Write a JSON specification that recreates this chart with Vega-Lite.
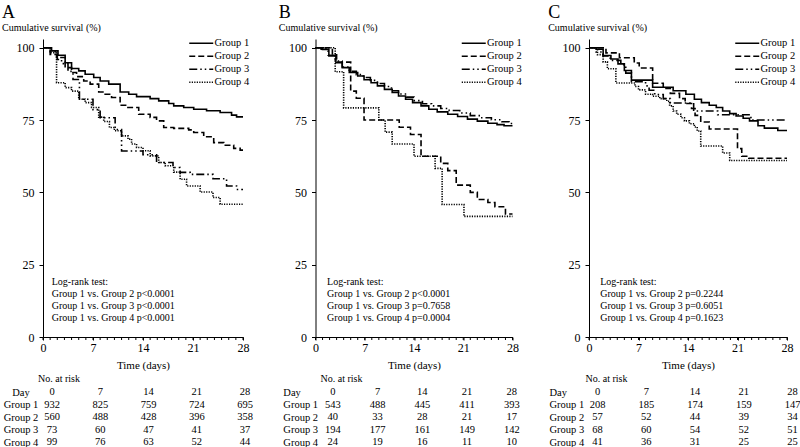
{
  "$schema": "https://vega.github.io/schema/vega-lite/v6.json",
  "padding": {"left": 2, "top": 4, "right": 0, "bottom": 0},
  "background": "white",
  "config": {
    "font": "Liberation Serif",
    "view": {"stroke": null},
    "axis": {"labelFont": "Liberation Serif", "labelFontSize": 12, "labelColor": "black", "tickColor": "black", "domainColor": "black", "titleFont": "Liberation Serif", "titleFontSize": 11, "titleFontWeight": "normal", "titleColor": "black", "grid": false},
    "title": {"font": "Liberation Serif", "color": "black", "fontWeight": "normal", "subtitleFont": "Liberation Serif", "subtitleColor": "black"},
    "legend": {"orient": "none", "direction": "vertical", "legendX": 153, "legendY": -1, "title": null, "symbolType": "M-3,0H3", "symbolSize": 64, "symbolStrokeWidth": 1.5, "symbolStrokeColor": "black", "symbolFillColor": "transparent", "labelFont": "Liberation Serif", "labelFontSize": 10.5, "labelColor": "black", "rowPadding": 2, "labelOffset": 8, "padding": 0},
    "text": {"font": "Liberation Serif", "color": "black"}
  },
  "datasets": {
    "days": [{"d":0},{"d":1},{"d":2},{"d":3},{"d":4},{"d":5},{"d":6},{"d":7},{"d":8},{"d":9},{"d":10},{"d":11},{"d":12},{"d":13},{"d":14},{"d":15},{"d":16},{"d":17},{"d":18},{"d":19},{"d":20},{"d":21},{"d":22},{"d":23},{"d":24},{"d":25},{"d":26},{"d":27},{"d":28}],
    "km": [
      {"p":"A","g":"Group 1","t":0,"s":100},{"p":"A","g":"Group 1","t":1.2,"s":98.9},{"p":"A","g":"Group 1","t":2.1,"s":97.4},{"p":"A","g":"Group 1","t":3.1,"s":94.8},{"p":"A","g":"Group 1","t":4,"s":92.8},{"p":"A","g":"Group 1","t":5,"s":92},{"p":"A","g":"Group 1","t":5.9,"s":90.8},{"p":"A","g":"Group 1","t":7.1,"s":89.7},{"p":"A","g":"Group 1","t":8,"s":88.5},{"p":"A","g":"Group 1","t":9.2,"s":87.4},{"p":"A","g":"Group 1","t":10.8,"s":84.7},{"p":"A","g":"Group 1","t":12,"s":83.9},{"p":"A","g":"Group 1","t":13.1,"s":83.1},{"p":"A","g":"Group 1","t":15,"s":82.4},{"p":"A","g":"Group 1","t":16.2,"s":81.6},{"p":"A","g":"Group 1","t":17.6,"s":80.7},{"p":"A","g":"Group 1","t":18.3,"s":79.9},{"p":"A","g":"Group 1","t":19.7,"s":79.3},{"p":"A","g":"Group 1","t":21.1,"s":78.7},{"p":"A","g":"Group 1","t":22.9,"s":78.2},{"p":"A","g":"Group 1","t":24.8,"s":77.6},{"p":"A","g":"Group 1","t":26.4,"s":76.7},{"p":"A","g":"Group 1","t":27.1,"s":76.1},{"p":"A","g":"Group 1","t":28,"s":76.1},
      {"p":"A","g":"Group 2","t":0,"s":100},{"p":"A","g":"Group 2","t":1,"s":97.7},{"p":"A","g":"Group 2","t":1.9,"s":96.6},{"p":"A","g":"Group 2","t":3.1,"s":93.1},{"p":"A","g":"Group 2","t":4,"s":91.4},{"p":"A","g":"Group 2","t":4.7,"s":90},{"p":"A","g":"Group 2","t":5.7,"s":88.5},{"p":"A","g":"Group 2","t":6.6,"s":87.4},{"p":"A","g":"Group 2","t":7.8,"s":84.7},{"p":"A","g":"Group 2","t":8.7,"s":83.9},{"p":"A","g":"Group 2","t":9.6,"s":82.8},{"p":"A","g":"Group 2","t":10.8,"s":80.1},{"p":"A","g":"Group 2","t":11.7,"s":79.3},{"p":"A","g":"Group 2","t":13.4,"s":77},{"p":"A","g":"Group 2","t":15,"s":75.9},{"p":"A","g":"Group 2","t":15.9,"s":74.7},{"p":"A","g":"Group 2","t":16.9,"s":72.4},{"p":"A","g":"Group 2","t":18.3,"s":72.1},{"p":"A","g":"Group 2","t":20.4,"s":71.6},{"p":"A","g":"Group 2","t":21.1,"s":70.7},{"p":"A","g":"Group 2","t":22.5,"s":69.2},{"p":"A","g":"Group 2","t":23.9,"s":67.2},{"p":"A","g":"Group 2","t":25.3,"s":66.3},{"p":"A","g":"Group 2","t":26.7,"s":65.2},{"p":"A","g":"Group 2","t":27.6,"s":64.6},{"p":"A","g":"Group 2","t":28,"s":64.6},
      {"p":"A","g":"Group 3","t":0,"s":100},{"p":"A","g":"Group 3","t":1,"s":98.6},{"p":"A","g":"Group 3","t":2,"s":95.9},{"p":"A","g":"Group 3","t":2.6,"s":94.5},{"p":"A","g":"Group 3","t":3.5,"s":91.8},{"p":"A","g":"Group 3","t":4.2,"s":89},{"p":"A","g":"Group 3","t":5.1,"s":82.2},{"p":"A","g":"Group 3","t":7,"s":78.6},{"p":"A","g":"Group 3","t":8,"s":75.8},{"p":"A","g":"Group 3","t":10.1,"s":71.7},{"p":"A","g":"Group 3","t":11,"s":64.3},{"p":"A","g":"Group 3","t":14,"s":63},{"p":"A","g":"Group 3","t":15.9,"s":60.3},{"p":"A","g":"Group 3","t":18.2,"s":58.6},{"p":"A","g":"Group 3","t":19.2,"s":56.9},{"p":"A","g":"Group 3","t":20.6,"s":56.2},{"p":"A","g":"Group 3","t":23.8,"s":54.7},{"p":"A","g":"Group 3","t":25.7,"s":52.2},{"p":"A","g":"Group 3","t":27.1,"s":51},{"p":"A","g":"Group 3","t":28,"s":51},
      {"p":"A","g":"Group 4","t":0,"s":100},{"p":"A","g":"Group 4","t":1,"s":98.3},{"p":"A","g":"Group 4","t":1.9,"s":87.9},{"p":"A","g":"Group 4","t":3.1,"s":86.2},{"p":"A","g":"Group 4","t":4,"s":85},{"p":"A","g":"Group 4","t":5,"s":82.2},{"p":"A","g":"Group 4","t":5.9,"s":81},{"p":"A","g":"Group 4","t":6.8,"s":79.3},{"p":"A","g":"Group 4","t":7.8,"s":76},{"p":"A","g":"Group 4","t":8.5,"s":74.5},{"p":"A","g":"Group 4","t":9.3,"s":72.4},{"p":"A","g":"Group 4","t":10,"s":71.3},{"p":"A","g":"Group 4","t":11,"s":69.5},{"p":"A","g":"Group 4","t":11.9,"s":68.4},{"p":"A","g":"Group 4","t":12.4,"s":66.7},{"p":"A","g":"Group 4","t":13.1,"s":65.5},{"p":"A","g":"Group 4","t":14,"s":64.4},{"p":"A","g":"Group 4","t":15,"s":62.6},{"p":"A","g":"Group 4","t":16.2,"s":60.3},{"p":"A","g":"Group 4","t":17.1,"s":59.2},{"p":"A","g":"Group 4","t":18.3,"s":57},{"p":"A","g":"Group 4","t":19.2,"s":54.5},{"p":"A","g":"Group 4","t":20.1,"s":52.2},{"p":"A","g":"Group 4","t":22,"s":50.1},{"p":"A","g":"Group 4","t":23.8,"s":48.2},{"p":"A","g":"Group 4","t":24.8,"s":45.9},{"p":"A","g":"Group 4","t":28,"s":45.9},
      {"p":"B","g":"Group 1","t":0,"s":100},{"p":"B","g":"Group 1","t":1,"s":99.4},{"p":"B","g":"Group 1","t":1.9,"s":97.1},{"p":"B","g":"Group 1","t":2.9,"s":94.8},{"p":"B","g":"Group 1","t":3.8,"s":93.1},{"p":"B","g":"Group 1","t":4.8,"s":91.4},{"p":"B","g":"Group 1","t":6,"s":90.2},{"p":"B","g":"Group 1","t":6.9,"s":88.9},{"p":"B","g":"Group 1","t":7.9,"s":87.9},{"p":"B","g":"Group 1","t":8.8,"s":86.8},{"p":"B","g":"Group 1","t":9.8,"s":85.6},{"p":"B","g":"Group 1","t":10.9,"s":84.5},{"p":"B","g":"Group 1","t":11.8,"s":83.3},{"p":"B","g":"Group 1","t":12.8,"s":82.2},{"p":"B","g":"Group 1","t":13.8,"s":81},{"p":"B","g":"Group 1","t":15,"s":79.9},{"p":"B","g":"Group 1","t":16.1,"s":78.7},{"p":"B","g":"Group 1","t":17.3,"s":77.8},{"p":"B","g":"Group 1","t":18.8,"s":77},{"p":"B","g":"Group 1","t":20.2,"s":76.2},{"p":"B","g":"Group 1","t":21.6,"s":75.3},{"p":"B","g":"Group 1","t":23,"s":74.6},{"p":"B","g":"Group 1","t":24.5,"s":73.9},{"p":"B","g":"Group 1","t":25.8,"s":73.4},{"p":"B","g":"Group 1","t":26.8,"s":73},{"p":"B","g":"Group 1","t":28,"s":73},
      {"p":"B","g":"Group 2","t":0,"s":100},{"p":"B","g":"Group 2","t":2.4,"s":97.5},{"p":"B","g":"Group 2","t":3,"s":95},{"p":"B","g":"Group 2","t":5,"s":85},{"p":"B","g":"Group 2","t":5.8,"s":82.5},{"p":"B","g":"Group 2","t":6.9,"s":75},{"p":"B","g":"Group 2","t":11.9,"s":72.5},{"p":"B","g":"Group 2","t":13.5,"s":70},{"p":"B","g":"Group 2","t":15,"s":62.5},{"p":"B","g":"Group 2","t":17.8,"s":60},{"p":"B","g":"Group 2","t":18.8,"s":57.5},{"p":"B","g":"Group 2","t":20,"s":52.5},{"p":"B","g":"Group 2","t":22,"s":50},{"p":"B","g":"Group 2","t":23,"s":47.5},{"p":"B","g":"Group 2","t":24.5,"s":46.5},{"p":"B","g":"Group 2","t":25.5,"s":45},{"p":"B","g":"Group 2","t":27,"s":42.5},{"p":"B","g":"Group 2","t":28,"s":42.5},
      {"p":"B","g":"Group 3","t":0,"s":100},{"p":"B","g":"Group 3","t":0.8,"s":99.5},{"p":"B","g":"Group 3","t":1.8,"s":97.4},{"p":"B","g":"Group 3","t":2.8,"s":95.4},{"p":"B","g":"Group 3","t":3.8,"s":93.3},{"p":"B","g":"Group 3","t":4.8,"s":91.8},{"p":"B","g":"Group 3","t":5.8,"s":90.7},{"p":"B","g":"Group 3","t":6.8,"s":89.7},{"p":"B","g":"Group 3","t":7.8,"s":88.7},{"p":"B","g":"Group 3","t":8.8,"s":87.6},{"p":"B","g":"Group 3","t":9.8,"s":86.6},{"p":"B","g":"Group 3","t":10.8,"s":85.1},{"p":"B","g":"Group 3","t":11.8,"s":84},{"p":"B","g":"Group 3","t":12.9,"s":82.9},{"p":"B","g":"Group 3","t":14,"s":81.7},{"p":"B","g":"Group 3","t":15.2,"s":80.6},{"p":"B","g":"Group 3","t":16.5,"s":79.9},{"p":"B","g":"Group 3","t":17.8,"s":79},{"p":"B","g":"Group 3","t":19,"s":78.3},{"p":"B","g":"Group 3","t":20.5,"s":77.4},{"p":"B","g":"Group 3","t":22,"s":76.5},{"p":"B","g":"Group 3","t":23.5,"s":75.8},{"p":"B","g":"Group 3","t":25,"s":75.1},{"p":"B","g":"Group 3","t":26.5,"s":74.4},{"p":"B","g":"Group 3","t":27.5,"s":73.8},{"p":"B","g":"Group 3","t":28,"s":73.8},
      {"p":"B","g":"Group 4","t":0,"s":100},{"p":"B","g":"Group 4","t":2.8,"s":91.7},{"p":"B","g":"Group 4","t":4,"s":79.2},{"p":"B","g":"Group 4","t":9,"s":75},{"p":"B","g":"Group 4","t":9.9,"s":70.8},{"p":"B","g":"Group 4","t":10.9,"s":66.7},{"p":"B","g":"Group 4","t":14,"s":62.5},{"p":"B","g":"Group 4","t":17,"s":58.3},{"p":"B","g":"Group 4","t":18,"s":45.8},{"p":"B","g":"Group 4","t":21.1,"s":41.7},{"p":"B","g":"Group 4","t":28,"s":41.7},
      {"p":"C","g":"Group 1","t":0,"s":100},{"p":"C","g":"Group 1","t":1,"s":99.5},{"p":"C","g":"Group 1","t":2,"s":97.3},{"p":"C","g":"Group 1","t":3.1,"s":96.1},{"p":"C","g":"Group 1","t":4.1,"s":94.4},{"p":"C","g":"Group 1","t":5,"s":92.1},{"p":"C","g":"Group 1","t":6,"s":88.8},{"p":"C","g":"Group 1","t":9,"s":86.3},{"p":"C","g":"Group 1","t":11.9,"s":85.1},{"p":"C","g":"Group 1","t":13.7,"s":83.9},{"p":"C","g":"Group 1","t":14.9,"s":82.2},{"p":"C","g":"Group 1","t":15.9,"s":81},{"p":"C","g":"Group 1","t":17,"s":80.1},{"p":"C","g":"Group 1","t":18,"s":79.3},{"p":"C","g":"Group 1","t":18.9,"s":78.1},{"p":"C","g":"Group 1","t":19.9,"s":77.2},{"p":"C","g":"Group 1","t":20.8,"s":76.4},{"p":"C","g":"Group 1","t":21.8,"s":75.6},{"p":"C","g":"Group 1","t":22.7,"s":74.7},{"p":"C","g":"Group 1","t":23.9,"s":73},{"p":"C","g":"Group 1","t":24.8,"s":72.2},{"p":"C","g":"Group 1","t":26.7,"s":71.4},{"p":"C","g":"Group 1","t":28,"s":71.4},
      {"p":"C","g":"Group 2","t":0,"s":100},{"p":"C","g":"Group 2","t":2.4,"s":98.2},{"p":"C","g":"Group 2","t":4.3,"s":96.5},{"p":"C","g":"Group 2","t":6.4,"s":94.7},{"p":"C","g":"Group 2","t":7.1,"s":93},{"p":"C","g":"Group 2","t":9,"s":87.7},{"p":"C","g":"Group 2","t":10.5,"s":85.9},{"p":"C","g":"Group 2","t":11.5,"s":84.2},{"p":"C","g":"Group 2","t":12.8,"s":82.4},{"p":"C","g":"Group 2","t":13.6,"s":80.7},{"p":"C","g":"Group 2","t":14.5,"s":79},{"p":"C","g":"Group 2","t":15,"s":76.6},{"p":"C","g":"Group 2","t":15.8,"s":74.3},{"p":"C","g":"Group 2","t":17,"s":71.9},{"p":"C","g":"Group 2","t":21,"s":65.1},{"p":"C","g":"Group 2","t":21.6,"s":62.5},{"p":"C","g":"Group 2","t":22.6,"s":61.8},{"p":"C","g":"Group 2","t":28,"s":61.8},
      {"p":"C","g":"Group 3","t":0,"s":100},{"p":"C","g":"Group 3","t":1,"s":98.5},{"p":"C","g":"Group 3","t":2,"s":97.1},{"p":"C","g":"Group 3","t":3,"s":95.6},{"p":"C","g":"Group 3","t":4.5,"s":94.1},{"p":"C","g":"Group 3","t":5.2,"s":91.2},{"p":"C","g":"Group 3","t":6,"s":88.2},{"p":"C","g":"Group 3","t":8,"s":86.8},{"p":"C","g":"Group 3","t":8.5,"s":85.3},{"p":"C","g":"Group 3","t":9.3,"s":83.8},{"p":"C","g":"Group 3","t":10.5,"s":82.4},{"p":"C","g":"Group 3","t":11.5,"s":80.9},{"p":"C","g":"Group 3","t":14.8,"s":78.1},{"p":"C","g":"Group 3","t":18.2,"s":76.8},{"p":"C","g":"Group 3","t":22.9,"s":75},{"p":"C","g":"Group 3","t":28,"s":75},
      {"p":"C","g":"Group 4","t":0,"s":100},{"p":"C","g":"Group 4","t":1.2,"s":97.6},{"p":"C","g":"Group 4","t":2,"s":95.1},{"p":"C","g":"Group 4","t":2.6,"s":92.7},{"p":"C","g":"Group 4","t":3.8,"s":87.8},{"p":"C","g":"Group 4","t":6.5,"s":86.6},{"p":"C","g":"Group 4","t":7,"s":85.4},{"p":"C","g":"Group 4","t":8,"s":83.9},{"p":"C","g":"Group 4","t":9,"s":83.2},{"p":"C","g":"Group 4","t":10,"s":82.4},{"p":"C","g":"Group 4","t":11,"s":81.5},{"p":"C","g":"Group 4","t":11.4,"s":79.9},{"p":"C","g":"Group 4","t":11.9,"s":78.1},{"p":"C","g":"Group 4","t":12.4,"s":77},{"p":"C","g":"Group 4","t":13,"s":75.8},{"p":"C","g":"Group 4","t":13.5,"s":74.7},{"p":"C","g":"Group 4","t":14.2,"s":73.7},{"p":"C","g":"Group 4","t":14.9,"s":72.6},{"p":"C","g":"Group 4","t":15.3,"s":71.2},{"p":"C","g":"Group 4","t":15.8,"s":66},{"p":"C","g":"Group 4","t":18.9,"s":63.6},{"p":"C","g":"Group 4","t":19.9,"s":61},{"p":"C","g":"Group 4","t":28,"s":61}
    ],
    "risk": [
      {"p":"A","r":"Day","d":0,"n":"0"},{"p":"A","r":"Day","d":7,"n":"7"},{"p":"A","r":"Day","d":14,"n":"14"},{"p":"A","r":"Day","d":21,"n":"21"},{"p":"A","r":"Day","d":28,"n":"28"},
      {"p":"A","r":"Group 1","d":0,"n":"932"},{"p":"A","r":"Group 1","d":7,"n":"825"},{"p":"A","r":"Group 1","d":14,"n":"759"},{"p":"A","r":"Group 1","d":21,"n":"724"},{"p":"A","r":"Group 1","d":28,"n":"695"},
      {"p":"A","r":"Group 2","d":0,"n":"560"},{"p":"A","r":"Group 2","d":7,"n":"488"},{"p":"A","r":"Group 2","d":14,"n":"428"},{"p":"A","r":"Group 2","d":21,"n":"396"},{"p":"A","r":"Group 2","d":28,"n":"358"},
      {"p":"A","r":"Group 3","d":0,"n":"73"},{"p":"A","r":"Group 3","d":7,"n":"60"},{"p":"A","r":"Group 3","d":14,"n":"47"},{"p":"A","r":"Group 3","d":21,"n":"41"},{"p":"A","r":"Group 3","d":28,"n":"37"},
      {"p":"A","r":"Group 4","d":0,"n":"99"},{"p":"A","r":"Group 4","d":7,"n":"76"},{"p":"A","r":"Group 4","d":14,"n":"63"},{"p":"A","r":"Group 4","d":21,"n":"52"},{"p":"A","r":"Group 4","d":28,"n":"44"},
      {"p":"B","r":"Day","d":0,"n":"0"},{"p":"B","r":"Day","d":7,"n":"7"},{"p":"B","r":"Day","d":14,"n":"14"},{"p":"B","r":"Day","d":21,"n":"21"},{"p":"B","r":"Day","d":28,"n":"28"},
      {"p":"B","r":"Group 1","d":0,"n":"543"},{"p":"B","r":"Group 1","d":7,"n":"488"},{"p":"B","r":"Group 1","d":14,"n":"445"},{"p":"B","r":"Group 1","d":21,"n":"411"},{"p":"B","r":"Group 1","d":28,"n":"393"},
      {"p":"B","r":"Group 2","d":0,"n":"40"},{"p":"B","r":"Group 2","d":7,"n":"33"},{"p":"B","r":"Group 2","d":14,"n":"28"},{"p":"B","r":"Group 2","d":21,"n":"21"},{"p":"B","r":"Group 2","d":28,"n":"17"},
      {"p":"B","r":"Group 3","d":0,"n":"194"},{"p":"B","r":"Group 3","d":7,"n":"177"},{"p":"B","r":"Group 3","d":14,"n":"161"},{"p":"B","r":"Group 3","d":21,"n":"149"},{"p":"B","r":"Group 3","d":28,"n":"142"},
      {"p":"B","r":"Group 4","d":0,"n":"24"},{"p":"B","r":"Group 4","d":7,"n":"19"},{"p":"B","r":"Group 4","d":14,"n":"16"},{"p":"B","r":"Group 4","d":21,"n":"11"},{"p":"B","r":"Group 4","d":28,"n":"10"},
      {"p":"C","r":"Day","d":0,"n":"0"},{"p":"C","r":"Day","d":7,"n":"7"},{"p":"C","r":"Day","d":14,"n":"14"},{"p":"C","r":"Day","d":21,"n":"21"},{"p":"C","r":"Day","d":28,"n":"28"},
      {"p":"C","r":"Group 1","d":0,"n":"208"},{"p":"C","r":"Group 1","d":7,"n":"185"},{"p":"C","r":"Group 1","d":14,"n":"174"},{"p":"C","r":"Group 1","d":21,"n":"159"},{"p":"C","r":"Group 1","d":28,"n":"147"},
      {"p":"C","r":"Group 2","d":0,"n":"57"},{"p":"C","r":"Group 2","d":7,"n":"52"},{"p":"C","r":"Group 2","d":14,"n":"44"},{"p":"C","r":"Group 2","d":21,"n":"39"},{"p":"C","r":"Group 2","d":28,"n":"34"},
      {"p":"C","r":"Group 3","d":0,"n":"68"},{"p":"C","r":"Group 3","d":7,"n":"60"},{"p":"C","r":"Group 3","d":14,"n":"54"},{"p":"C","r":"Group 3","d":21,"n":"52"},{"p":"C","r":"Group 3","d":28,"n":"51"},
      {"p":"C","r":"Group 4","d":0,"n":"41"},{"p":"C","r":"Group 4","d":7,"n":"36"},{"p":"C","r":"Group 4","d":14,"n":"31"},{"p":"C","r":"Group 4","d":21,"n":"25"},{"p":"C","r":"Group 4","d":28,"n":"25"}
    ]
  },
  "columns": 3,
  "align": "each",
  "spacing": {"column": 25.5, "row": 4},
  "resolve": {"scale": {"strokeDash": "independent", "x": "independent", "y": "independent"}, "legend": {"strokeDash": "independent"}},
  "concat": [
    {
      "width": 200, "height": 298,
      "title": {"text": "A", "subtitle": "Cumulative survival (%)", "anchor": "start", "frame": "group", "fontSize": 18, "subtitleFontSize": 10, "subtitlePadding": 1, "offset": 5, "dx": -41},
      "layer": [
        {
          "data": {"name": "km"},
          "transform": [{"filter": "datum.p == 'A'"}],
          "mark": {"type": "line", "interpolate": "step-after", "strokeWidth": 1.6, "color": "black"},
          "encoding": {
            "x": {"field": "t", "type": "quantitative", "scale": {"domain": [0, 28], "nice": false}, "axis": {"values": [0, 7, 14, 21, 28], "tickSize": 3, "labelPadding": 2, "labelFlush": false, "labelOverlap": false, "title": "Time (days)", "titlePadding": 6}},
            "y": {"field": "s", "type": "quantitative", "scale": {"domain": [0, 103], "nice": false}, "axis": {"values": [0,25,50,75,100], "tickSize": 4, "labelPadding": 5, "title": null}},
            "strokeDash": {"field": "g", "type": "nominal", "scale": {"domain": ["Group 1","Group 2","Group 3","Group 4"], "range": [[1,0],[6,3],[8,3,1.5,3,1.5,3],[1.2,1.3]]}, "legend": {}}
          }
        },
        {
          "data": {"name": "days"},
          "mark": {"type": "tick", "orient": "vertical", "size": 3, "thickness": 1, "color": "black", "opacity": 1, "yOffset": 1.5},
          "encoding": {"x": {"field": "d", "type": "quantitative"}, "y": {"datum": 0}}
        },
        {
          "data": {"values": [{}]},
          "mark": {"type": "text", "align": "left", "baseline": "top", "fontSize": 10, "lineHeight": 12},
          "encoding": {"x": {"datum": 1.22}, "y": {"datum": 20.7}, "text": {"value": ["Log-rank test:", "Group 1 vs. Group 2 p<0.0001", "Group 1 vs. Group 3 p<0.0001", "Group 1 vs. Group 4 p<0.0001"]}}
        }
      ]
    },
    {
      "width": 197, "height": 298,
      "title": {"text": "B", "subtitle": "Cumulative survival (%)", "anchor": "start", "frame": "group", "fontSize": 18, "subtitleFontSize": 10, "subtitlePadding": 1, "offset": 5, "dx": -36.7},
      "layer": [
        {
          "data": {"name": "km"},
          "transform": [{"filter": "datum.p == 'B'"}],
          "mark": {"type": "line", "interpolate": "step-after", "strokeWidth": 1.6, "color": "black"},
          "encoding": {
            "x": {"field": "t", "type": "quantitative", "scale": {"domain": [0, 28], "nice": false}, "axis": {"values": [0, 7, 14, 21, 28], "tickSize": 3, "labelPadding": 2, "labelFlush": false, "labelOverlap": false, "title": "Time (days)", "titlePadding": 6}},
            "y": {"field": "s", "type": "quantitative", "scale": {"domain": [0, 103], "nice": false}, "axis": {"values": [0,25,50,75,100], "tickSize": 4, "labelPadding": 5, "title": null}},
            "strokeDash": {"field": "g", "type": "nominal", "scale": {"domain": ["Group 1","Group 2","Group 3","Group 4"], "range": [[1,0],[6,3],[8,3,1.5,3,1.5,3],[1.2,1.3]]}, "legend": {}}
          }
        },
        {
          "data": {"name": "days"},
          "mark": {"type": "tick", "orient": "vertical", "size": 3, "thickness": 1, "color": "black", "opacity": 1, "yOffset": 1.5},
          "encoding": {"x": {"field": "d", "type": "quantitative"}, "y": {"datum": 0}}
        },
        {
          "data": {"values": [{}]},
          "mark": {"type": "text", "align": "left", "baseline": "top", "fontSize": 10, "lineHeight": 12},
          "encoding": {"x": {"datum": 1.65}, "y": {"datum": 20.7}, "text": {"value": ["Log-rank test:", "Group 1 vs. Group 2 p<0.0001", "Group 1 vs. Group 3 p=0.7658", "Group 1 vs. Group 4 p=0.0004"]}}
        }
      ]
    },
    {
      "width": 198, "height": 298,
      "title": {"text": "C", "subtitle": "Cumulative survival (%)", "anchor": "start", "frame": "group", "fontSize": 18, "subtitleFontSize": 10, "subtitlePadding": 1, "offset": 5, "dx": -40.8},
      "layer": [
        {
          "data": {"name": "km"},
          "transform": [{"filter": "datum.p == 'C'"}],
          "mark": {"type": "line", "interpolate": "step-after", "strokeWidth": 1.6, "color": "black"},
          "encoding": {
            "x": {"field": "t", "type": "quantitative", "scale": {"domain": [0, 28], "nice": false}, "axis": {"values": [0, 7, 14, 21, 28], "tickSize": 3, "labelPadding": 2, "labelFlush": false, "labelOverlap": false, "title": "Time (days)", "titlePadding": 6}},
            "y": {"field": "s", "type": "quantitative", "scale": {"domain": [0, 103], "nice": false}, "axis": {"values": [0,25,50,75,100], "tickSize": 4, "labelPadding": 5, "title": null}},
            "strokeDash": {"field": "g", "type": "nominal", "scale": {"domain": ["Group 1","Group 2","Group 3","Group 4"], "range": [[1,0],[6,3],[8,3,1.5,3,1.5,3],[1.2,1.3]]}, "legend": {}}
          }
        },
        {
          "data": {"name": "days"},
          "mark": {"type": "tick", "orient": "vertical", "size": 3, "thickness": 1, "color": "black", "opacity": 1, "yOffset": 1.5},
          "encoding": {"x": {"field": "d", "type": "quantitative"}, "y": {"datum": 0}}
        },
        {
          "data": {"values": [{}]},
          "mark": {"type": "text", "align": "left", "baseline": "top", "fontSize": 10, "lineHeight": 12},
          "encoding": {"x": {"datum": 1.58}, "y": {"datum": 20.7}, "text": {"value": ["Log-rank test:", "Group 1 vs. Group 2 p=0.2244", "Group 1 vs. Group 3 p=0.6051", "Group 1 vs. Group 4 p=0.1623"]}}
        }
      ]
    },
    {
      "width": 193, "height": 62.5,
      "title": {"text": "No. at risk", "anchor": "start", "frame": "group", "fontSize": 10, "offset": 2, "dx": -5},
      "data": {"name": "risk"},
      "transform": [{"filter": "datum.p == 'A'"}],
      "mark": {"type": "text", "fontSize": 10.5, "dx": 9},
      "encoding": {
        "x": {"field": "d", "type": "quantitative", "scale": {"domain": [0, 28], "nice": false}, "axis": null},
        "y": {"field": "r", "type": "nominal", "sort": ["Day","Group 1","Group 2","Group 3","Group 4"], "scale": {"type": "point", "padding": 0.5}, "axis": {"title": null, "domain": false, "ticks": false, "tickSize": 0, "labelFontSize": 10.5, "labelAlign": "center", "labelPadding": 22.5}},
        "text": {"field": "n", "type": "nominal"}
      }
    },
    {
      "width": 179, "height": 62.5,
      "title": {"text": "No. at risk", "anchor": "start", "frame": "group", "fontSize": 10, "offset": 2, "dx": 5},
      "data": {"name": "risk"},
      "transform": [{"filter": "datum.p == 'B'"}],
      "mark": {"type": "text", "fontSize": 10.5, "dx": 17.3},
      "encoding": {
        "x": {"field": "d", "type": "quantitative", "scale": {"domain": [0, 28], "nice": false}, "axis": null},
        "y": {"field": "r", "type": "nominal", "sort": ["Day","Group 1","Group 2","Group 3","Group 4"], "scale": {"type": "point", "padding": 0.5}, "axis": {"title": null, "domain": false, "ticks": false, "tickSize": 0, "labelFontSize": 10.5, "labelAlign": "left", "labelPadding": 32.7}},
        "text": {"field": "n", "type": "nominal"}
      }
    },
    {
      "width": 195, "height": 62.5,
      "title": {"text": "No. at risk", "anchor": "start", "frame": "group", "fontSize": 10, "offset": 2, "dx": -3.5},
      "data": {"name": "risk"},
      "transform": [{"filter": "datum.p == 'C'"}],
      "mark": {"type": "text", "fontSize": 10.5, "dx": 8.5},
      "encoding": {
        "x": {"field": "d", "type": "quantitative", "scale": {"domain": [0, 28], "nice": false}, "axis": null},
        "y": {"field": "r", "type": "nominal", "sort": ["Day","Group 1","Group 2","Group 3","Group 4"], "scale": {"type": "point", "padding": 0.5}, "axis": {"title": null, "domain": false, "ticks": false, "tickSize": 0, "labelFontSize": 10.5, "labelAlign": "left", "labelPadding": 40}},
        "text": {"field": "n", "type": "nominal"}
      }
    }
  ]
}
